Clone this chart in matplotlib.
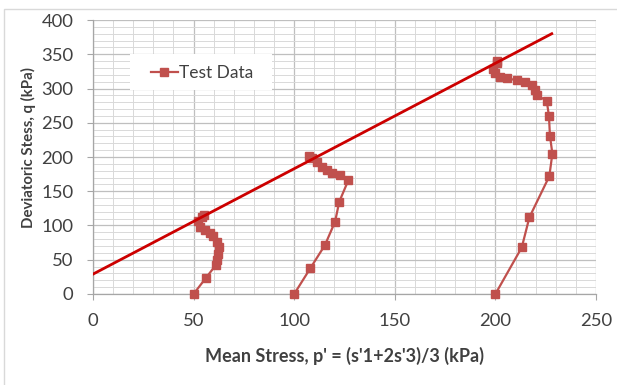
import matplotlib.pyplot as plt
import numpy as np

# triaxial test paths (p', q) in kPa
p1 = [50, 56, 61, 61.5, 62.3, 62.8, 61.5, 59.8, 58, 55.7, 53, 52.3, 54, 55]
q1 = [0, 23, 42, 50, 59, 69, 76, 84, 89, 93, 98, 106, 112, 116]
p2 = [100, 108, 115.3, 120.3, 122.4, 126.9, 122.8, 118.6, 116.1, 113.6, 111.2, 108.7, 107.5]
q2 = [0, 37.5, 71.5, 105.5, 134.7, 166, 173.7, 176, 181, 186, 193, 199, 201]
p3 = [200, 213.1, 216.9, 226.8, 228.3, 227.1, 226.6, 225.5, 220.5, 219.7, 218, 214.7,
      210.6, 205.6, 202.3, 199.8, 199, 200.6, 201]
q3 = [0, 68, 112, 172, 205, 231, 260, 282, 290.5, 298, 305, 310, 312, 315, 317, 322,
      329, 337, 340]

# failure line
line_p = [0, 228]
line_q = [29, 380]

red = '#C0504D'
txt = '#404040'
plt.rcParams['font.family'] = ['Lato', 'DejaVu Sans']

fig = plt.figure(figsize=(6.17, 3.85), dpi=100)
ax = fig.add_axes([0.1507, 0.2364, 0.8153, 0.7116])

ax.set_xlim(0, 250)
ax.set_ylim(0, 400)
ax.set_xticks(np.arange(0, 251, 50))
ax.set_yticks(np.arange(0, 401, 50))
ax.set_xticks(np.arange(0, 251, 10), minor=True)
ax.set_yticks(np.arange(0, 401, 10), minor=True)
ax.grid(which='major', color='#bfbfbf', lw=0.9)
ax.grid(which='minor', color='#d9d9d9', lw=0.7)
ax.set_axisbelow(True)
ax.tick_params(which='minor', length=0)
ax.tick_params(which='major', length=4, color='#a6a6a6', labelsize=13.3,
               labelcolor=txt)
ax.tick_params(axis='x', pad=10)
ax.tick_params(axis='y', pad=10)
for s in ['top', 'right']:
    ax.spines[s].set_visible(False)
for s in ['left', 'bottom']:
    ax.spines[s].set_color('#a6a6a6')
    ax.spines[s].set_linewidth(0.9)

first = True
for p, q in [(p1, q1), (p2, q2), (p3, q3)]:
    ax.plot(p, q, color=red, lw=1.6, marker='s', ms=6, mec=red, mfc=red,
            label='Test Data' if first else None, clip_on=False, zorder=3)
    first = False

ax.plot(line_p, line_q, color='#CC0000', lw=2, zorder=4)

# white legend box over the grid
ax.add_patch(plt.Rectangle((0.0736, 0.7445), 0.2824, 0.1315, transform=ax.transAxes,
                           fc='white', ec='none', zorder=2.5))
ax.legend(loc='center left', bbox_to_anchor=(0.1153, 0.808), frameon=False,
          fontsize=12.5, handlelength=1.55, handletextpad=0.05, borderpad=0,
          borderaxespad=0, labelcolor=txt)

ax.set_xlabel("Mean Stress, p' = (s'1+2s'3)/3 (kPa)", fontsize=13,
              fontweight='bold', color=txt)
ax.set_ylabel('Deviatoric Stess, q (kPa)', fontsize=10.8, fontweight='bold',
              color=txt)
ax.xaxis.set_label_coords(0.5, -0.226)
ax.yaxis.set_label_coords(-0.129, 0.533)
ax.xaxis.label.set_va('center')
ax.yaxis.label.set_va('center')

# chart area border
fig.patches.append(plt.Rectangle((4 / 617, -0.05), 1.1, 1 - 9 / 385 + 0.05,
                                 transform=fig.transFigure, fill=False,
                                 ec='#d9d9d9', lw=1))

fig.savefig('out.png', dpi=100)
